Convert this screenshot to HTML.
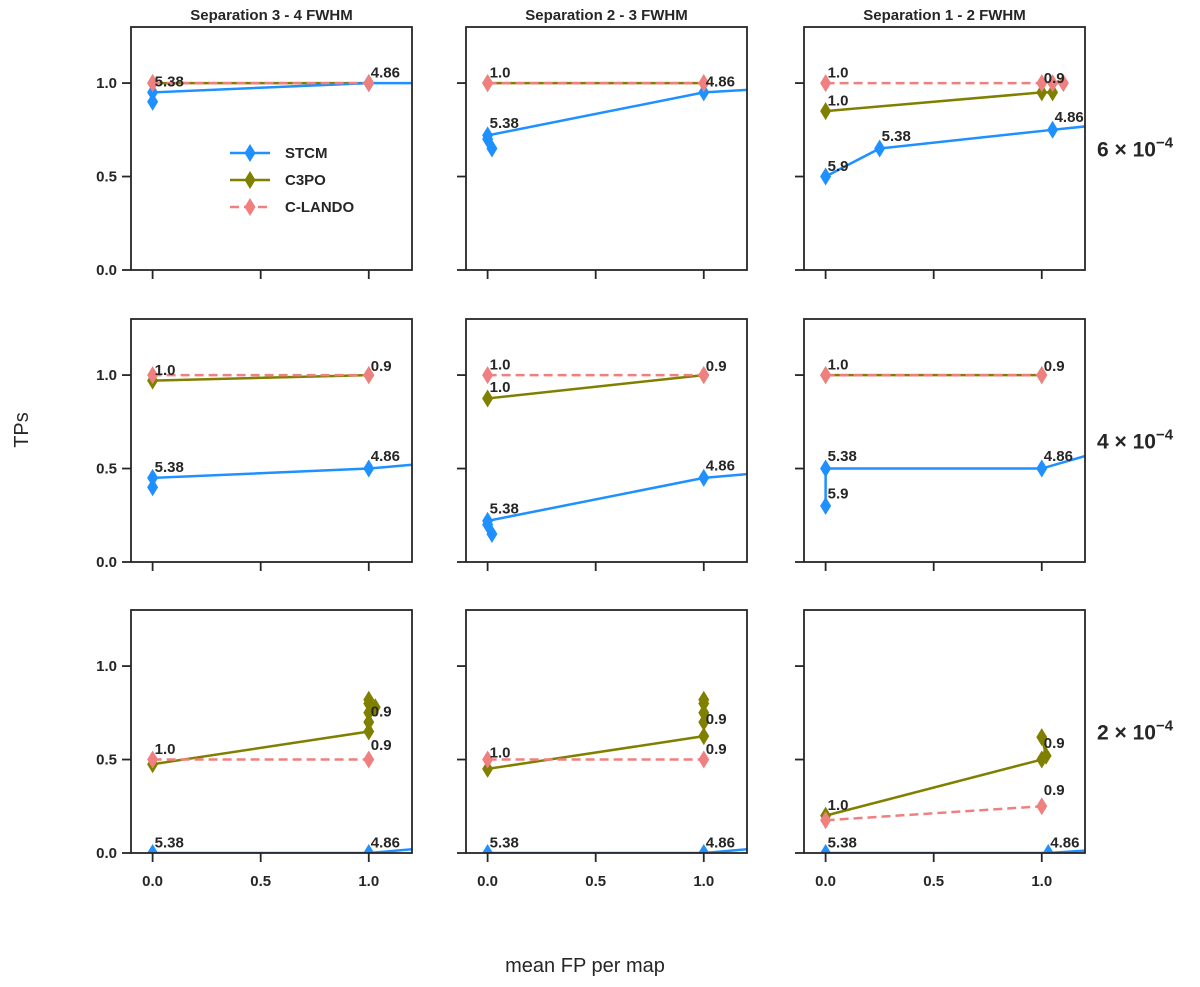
<!DOCTYPE html>
<html><head><meta charset="utf-8"><style>
body{margin:0;background:#fff}
svg text{font-family:"Liberation Sans",sans-serif;fill:#262626}
</style></head><body>
<svg id="fig" width="1200" height="982" xmlns="http://www.w3.org/2000/svg"></svg>
<script>
const colTitles=["Separation 3 - 4 FWHM","Separation 2 - 3 FWHM","Separation 1 - 2 FWHM"];
const rowLabels=["6","4","2"];
const xTicks=[0,0.5,1.0];
const xTickLabels=["0.0","0.5","1.0"];
const yTicks=[0,0.5,1.0];
const yTickLabels=["0.0","0.5","1.0"];
const seriesNames=["STCM","C3PO","C-LANDO"];
const seriesColors=["#1e90ff","#808000","#f08080"];
// per panel [row][col]: series x / y arrays
const stcmX=[[[0,0,1,1.3],[0.02,0,0,1,1.3],[0,0.25,1.05,1.3]],[[0,0,1,1.3],[0.02,0,0,1,1.3],[0,0,1,1.3]],[[0,1,1.3],[0,1,1.3],[0,1.03,1.3]]];
const stcmY=[[[0.90,0.95,1.0,1.0],[0.65,0.70,0.72,0.95,0.97],[0.5,0.65,0.75,0.78]],[[0.40,0.45,0.5,0.53],[0.15,0.20,0.22,0.45,0.48],[0.3,0.5,0.5,0.6]],[[0,0,0.03],[0,0,0.03],[0,0,0.02]]];
const c3poX=[[[0,1],[0,1],[0,1,1.05]],[[0,1],[0,1],[0,1]],[[0,1,1,1,1.03,1,1],[0,1,1,1,1,1],[0,1,1.02,1]]];
const c3poY=[[[1,1],[1,1],[0.85,0.95,0.95]],[[0.97,1],[0.875,1],[1,1]],[[0.475,0.65,0.70,0.75,0.78,0.80,0.82],[0.45,0.625,0.70,0.75,0.80,0.82],[0.2,0.5,0.52,0.62]]];
const clX=[[[0,1],[0,1],[0,1,1.05,1.1]],[[0,1],[0,1],[0,1]],[[0,1],[0,1],[0,1]]];
const clY=[[[1,1],[1,1],[1,1,1,1]],[[1,1],[1,1],[1,1]],[[0.5,0.5],[0.5,0.5],[0.175,0.25]]];
// annotations [row][col]: x, y, text
const annX=[[[0,1],[0,0,1],[0,0.25,1.05,0,0,1]],[[0,1,0,1],[0,1,0,0,1],[0,0,1,0,1]],[[0,1,1,0,1],[0,1,1,0,1],[0,1.03,0,1,1]]];
const annY=[[[0.97,1.02],[1.02,0.75,0.97],[0.52,0.68,0.78,1.02,0.87,0.99]],[[0.47,0.53,0.99,1.01],[0.25,0.48,1.02,0.9,1.01],[0.33,0.53,0.53,1.02,1.01]],[[0.02,0.02,0.72,0.52,0.54],[0.02,0.02,0.68,0.5,0.52],[0.02,0.02,0.22,0.55,0.3]]];
const annT=[[["5.38","4.86"],["1.0","5.38","4.86"],["5.9","5.38","4.86","1.0","1.0","0.9"]],[["5.38","4.86","1.0","0.9"],["5.38","4.86","1.0","1.0","0.9"],["5.9","5.38","4.86","1.0","0.9"]],[["5.38","4.86","0.9","1.0","0.9"],["5.38","4.86","0.9","1.0","0.9"],["5.38","4.86","1.0","0.9","0.9"]]];

const NS="http://www.w3.org/2000/svg";
const svg=document.getElementById('fig');
function mk(tag,attrs,parent){const e=document.createElementNS(NS,tag);for(const k in attrs)e.setAttribute(k,attrs[k]);(parent||svg).appendChild(e);return e;}
const colLeft=[131,466,804], W=281;
const rowTop=[27,319,610], H=243;
const xmin=-0.1,xmax=1.2,ymax=1.3;
const defs=mk('defs',{});
function diamond(cx,cy,color,g){const p=mk('polygon',{points:`${cx},${cy-9} ${cx+5.5},${cy} ${cx},${cy+9} ${cx-5.5},${cy}`,fill:color},g);

return p;}
for(let r=0;r<3;r++){for(let c=0;c<3;c++){
 const L=colLeft[c],T=rowTop[r];
 const sx=v=>L+(v-xmin)/(xmax-xmin)*W;
 const sy=v=>T+H-v/ymax*H;
 const g=mk('g',{});
 
 
 const cid=`clip${r}${c}`;
 const cp=mk('clipPath',{id:cid},defs);mk('rect',{x:L,y:T,width:W,height:H},cp);
 const dg=mk('g',{'clip-path':`url(#${cid})`},g);
 const sets=[[stcmX,stcmY,0],[c3poX,c3poY,1],[clX,clY,2]];
 [1,0,2].forEach(si=>{
  const [XA,YA]=sets[si];const xs=XA[r][c],ys=YA[r][c];
  const pts=xs.map((x,i)=>sx(x)+','+sy(ys[i])).join(' ');
  const pl=mk('polyline',{points:pts,fill:'none',stroke:seriesColors[si],'stroke-width':2.5,'stroke-dasharray':si==2?'9,5':'none'},dg);
  
  
  xs.forEach((x,i)=>diamond(sx(x),sy(ys[i]),seriesColors[si],dg));
 });
 annX[r][c].forEach((x,i)=>{
  const t=mk('text',{x:sx(x)+2,y:sy(annY[r][c][i])-2,'font-size':15,'font-weight':'bold'},g);
  t.textContent=annT[r][c][i];
  
  
 });
 const fr=mk('rect',{x:L,y:T,width:W,height:H,fill:'none',stroke:'#262626','stroke-width':1.8},g);
 
 
 xTicks.forEach((v,i)=>{mk('line',{x1:sx(v),x2:sx(v),y1:T+H,y2:T+H+9,stroke:'#262626','stroke-width':1.8},g);
  if(r==2){const t=mk('text',{x:sx(v),y:T+H+33,'text-anchor':'middle','font-size':15,'font-weight':'bold'},g);t.textContent=xTickLabels[i];
  
  }});
 yTicks.forEach((v,i)=>{mk('line',{x1:L-9,x2:L,y1:sy(v),y2:sy(v),stroke:'#262626','stroke-width':1.8},g);
  if(c==0){const t=mk('text',{x:L-14,y:sy(v)+5,'text-anchor':'end','font-size':15,'font-weight':'bold'},g);t.textContent=yTickLabels[i];
  
  }});
 if(r==0){const t=mk('text',{x:L+W/2,y:20,'text-anchor':'middle','font-size':15,'font-weight':'bold'},svg);t.textContent=colTitles[c];
  
  }
 if(c==2){const t=mk('text',{x:1097,y:T+H/2+8,'font-size':21,'font-weight':'bold'},svg);
  t.innerHTML=`${rowLabels[r]} × 10<tspan dy="-9" font-size="15">−4</tspan>`;
  
  }
}}
const lg=mk('g',{});


seriesNames.forEach((n,i)=>{const y=153+i*27;
 mk('line',{x1:230,x2:270,y1:y,y2:y,stroke:seriesColors[i],'stroke-width':2.5,'stroke-dasharray':i==2?'9,5':'none'},lg);
 diamond(250,y,seriesColors[i],lg);
 const t=mk('text',{x:285,y:y+5,'font-size':15,'font-weight':'bold'},lg);t.textContent=n;
 
 
});
const yl=mk('text',{x:0,y:0,transform:'translate(28,430) rotate(-90)','text-anchor':'middle','font-size':20},svg);yl.textContent='TPs';


const xl=mk('text',{x:585,y:972,'text-anchor':'middle','font-size':20},svg);xl.textContent='mean FP per map';


</script>
</body></html>
